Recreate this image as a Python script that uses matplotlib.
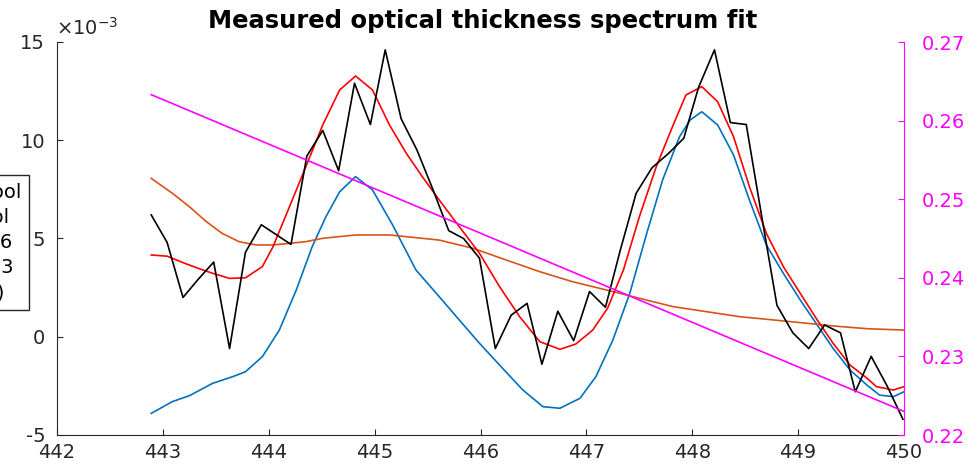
import matplotlib
matplotlib.use('Agg')
import matplotlib.pyplot as plt

plt.rcParams['axes.unicode_minus'] = False
plt.rcParams['mathtext.fontset'] = 'dejavusans'

# Measured optical thickness (units of 1e-3)
meas_x = [442.89, 443.04, 443.19, 443.33, 443.48, 443.63, 443.78, 443.93, 444.07, 444.21,
          444.36, 444.51, 444.66, 444.81, 444.96, 445.10, 445.25, 445.40, 445.55, 445.70,
          445.84, 445.99, 446.14, 446.29, 446.44, 446.58, 446.73, 446.88, 447.03, 447.18,
          447.32, 447.47, 447.62, 447.77, 447.92, 448.06, 448.21, 448.36, 448.51, 448.66,
          448.80, 448.95, 449.10, 449.25, 449.40, 449.54, 449.69, 449.84, 449.99]
meas_y = [6.2, 4.8, 2.0, 2.9, 3.8, -0.6, 4.3, 5.7, 5.2, 4.7,
          9.2, 10.5, 8.45, 12.9, 10.8, 14.6, 11.1, 9.5, 7.5, 5.4,
          5.0, 4.0, -0.6, 1.1, 1.7, -1.4, 1.3, -0.2, 2.3, 1.5,
          4.4, 7.3, 8.6, 9.3, 10.1, 12.7, 14.6, 10.9, 10.8, 6.0,
          1.6, 0.2, -0.6, 0.6, 0.2, -2.8, -1.0, -2.5, -4.2]

# Total fit (red)
fit_x = [442.89, 443.04, 443.20, 443.35, 443.47, 443.63, 443.78, 443.94, 444.04, 444.19,
         444.35, 444.51, 444.67, 444.82, 444.98, 445.14, 445.30, 445.45, 445.61, 445.80,
         445.99, 446.18, 446.37, 446.56, 446.75, 446.90, 447.06, 447.20, 447.35, 447.50,
         447.66, 447.82, 447.94, 448.09, 448.24, 448.39, 448.54, 448.70, 448.86, 449.02,
         449.17, 449.33, 449.49, 449.65, 449.74, 449.90, 450.00]
fit_y = [4.16, 4.1, 3.75, 3.45, 3.23, 2.97, 3.0, 3.57, 4.58, 6.54,
         8.65, 10.78, 12.56, 13.27, 12.56, 10.78, 9.33, 8.15, 6.96, 5.6,
         4.25, 2.55, 1.02, -0.25, -0.64, -0.37, 0.34, 1.45, 3.4, 6.1,
         8.65, 10.78, 12.3, 12.73, 11.96, 10.18, 7.64, 5.26, 3.57, 2.21,
         0.94, -0.33, -1.44, -2.11, -2.54, -2.71, -2.54]

# First absorber (blue)
abs1_x = [442.89, 443.09, 443.25, 443.47, 443.66, 443.78, 443.94, 444.10, 444.26, 444.41,
          444.54, 444.67, 444.82, 444.98, 445.17, 445.39, 445.61, 445.80, 445.99, 446.18,
          446.40, 446.59, 446.75, 446.94, 447.09, 447.25, 447.41, 447.57, 447.72, 447.88,
          447.98, 448.09, 448.24, 448.39, 448.54, 448.70, 448.86, 449.02, 449.17, 449.33,
          449.49, 449.65, 449.77, 449.90, 450.00]
abs1_y = [-3.9, -3.3, -3.0, -2.37, -2.03, -1.78, -1.01, 0.34, 2.38, 4.58,
          6.11, 7.38, 8.15, 7.47, 5.69, 3.4, 2.04, 0.85, -0.33, -1.44,
          -2.71, -3.56, -3.64, -3.13, -2.03, -0.17, 2.21, 5.26, 7.98, 10.18,
          11.03, 11.45, 10.78, 9.25, 6.96, 4.67, 3.23, 1.87, 0.68, -0.59,
          -1.69, -2.46, -2.97, -3.05, -2.8]

# Second absorber (orange)
abs2_x = [442.89, 443.09, 443.25, 443.41, 443.56, 443.72, 443.88, 444.04, 444.19, 444.35,
          444.51, 444.82, 445.14, 445.45, 445.61, 445.93, 446.24, 446.56, 446.87, 447.19,
          447.50, 447.82, 448.13, 448.45, 448.70, 449.02, 449.33, 449.65, 450.00]
abs2_y = [8.06, 7.3, 6.62, 5.86, 5.26, 4.84, 4.67, 4.67, 4.75, 4.84,
          5.01, 5.18, 5.18, 5.01, 4.92, 4.5, 3.91, 3.31, 2.8, 2.38,
          1.96, 1.53, 1.28, 1.02, 0.89, 0.72, 0.55, 0.41, 0.34]

# Offset (magenta, right axis)
offset_x = [442.89, 450.00]
offset_y = [0.2633, 0.2230]

legend_labels = ['Measured, pool', 'Fit (total) pool', 'NO\u2082 coef. 1.16',
                 'O\u2084 scale 0.833', 'offset (linear)']

dark = '#262626'
W, H = 977, 469
fig = plt.figure(figsize=(W / 100, H / 100), dpi=100)
ax = fig.add_axes([57 / W, 1 - 435 / H, (904 - 57) / W, (435 - 42) / H])
ax2 = ax.twinx()

lw = 1.2
l1, = ax.plot(meas_x, meas_y, color='k', lw=lw, zorder=4)
l2, = ax.plot(fit_x, fit_y, color='r', lw=lw, zorder=3)
l3, = ax.plot(abs1_x, abs1_y, color='#0072BD', lw=lw, zorder=2)
l4, = ax.plot(abs2_x, abs2_y, color='#D95319', lw=lw, zorder=2)
l5, = ax2.plot(offset_x, offset_y, color='#FF00FF', lw=lw)

ax.set_xlim(442, 450)
ax.set_ylim(-5, 15)
ax.set_xticks(range(442, 451))
ax.set_yticks([-5, 0, 5, 10, 15])
ax2.set_ylim(0.22, 0.27)
ax2.set_yticks([0.22, 0.23, 0.24, 0.25, 0.26, 0.27])

for a in (ax, ax2):
    a.spines['top'].set_visible(False)
ax.spines['right'].set_visible(False)
ax2.spines['left'].set_visible(False)
ax2.spines['bottom'].set_visible(False)
ax.spines['left'].set_color(dark)
ax.spines['bottom'].set_color(dark)
ax2.spines['right'].set_color('#FF00FF')

ax.tick_params(direction='in', length=4, labelsize=14, colors=dark)
ax.tick_params(axis='x', pad=6)
ax.tick_params(axis='y', pad=8.5)
ax2.tick_params(direction='in', length=4, labelsize=14, colors='#FF00FF', pad=13)

fig.text(483 / W, 1 - 28 / H, 'Measured optical thickness spectrum fit',
         ha='center', va='baseline', fontsize=17.5, fontweight='bold')
fig.text(56 / W, 1 - 35 / H, r'$\times10^{-3}$', ha='left', va='baseline',
         fontsize=14, color=dark)

fig.legend([l1, l2, l3, l4, l5], legend_labels, loc='upper right',
           bbox_to_anchor=(29 / W, 1 - 175 / H), fontsize=14, labelspacing=0.32,
           fancybox=False, edgecolor=dark, framealpha=1, borderaxespad=0,
           borderpad=0.4, handlelength=1.5)

fig.savefig('out.png', dpi=100)
